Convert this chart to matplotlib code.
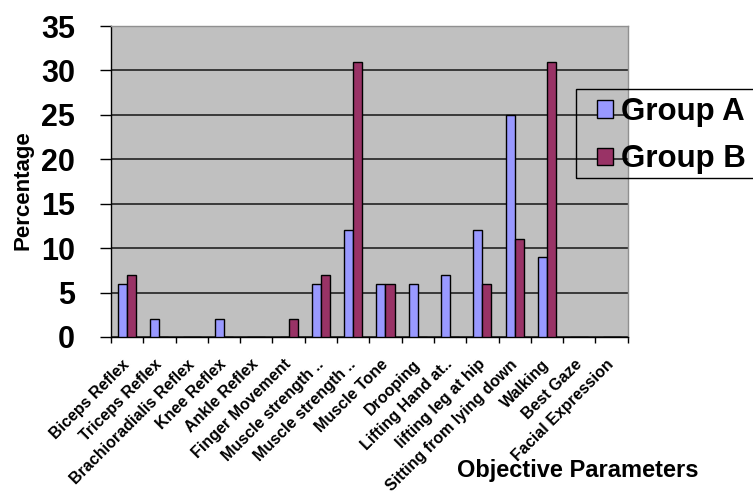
import numpy as np
import matplotlib
matplotlib.use("Agg")
import matplotlib.pyplot as plt
from matplotlib.patches import Rectangle

plt.rcParams['font.family'] = ['Liberation Sans', 'DejaVu Sans']

# categories and values
params = ['Biceps Reflex', 'Triceps Reflex', 'Brachioradialis Reflex', 'Knee Reflex',
          'Ankle Reflex', 'Finger Movement', 'Muscle strength ..', 'Muscle strength ..',
          'Muscle Tone', 'Drooping', 'Lifting Hand at..', 'lifting leg at hip',
          'Sitting from lying down', 'Walking', 'Best Gaze', 'Facial Expression']
group_a = [6, 2, 0, 2, 0, 0, 6, 12, 6, 6, 7, 12, 25, 9, 0, 0]
group_b = [7, 0, 0, 0, 0, 2, 7, 31, 6, 0, 0, 6, 11, 31, 0, 0]
yticks = [0, 5, 10, 15, 20, 25, 30, 35]

col_a = '#9999FF'
col_b = '#993366'

fig = plt.figure(figsize=(7.53, 4.95), dpi=100)
ax = fig.add_axes([111/753, 1 - 337/495, (627.7 - 111)/753, (337 - 26)/495])
ax.set_facecolor('#C0C0C0')

x = np.arange(len(params))
w = 0.28
ax.bar(x - w/2, group_a, w, color=col_a, edgecolor='black', linewidth=1, label='Group A', zorder=3)
ax.bar(x + w/2, group_b, w, color=col_b, edgecolor='black', linewidth=1, label='Group B', zorder=3)

ax.set_xlim(-0.5, len(params) - 0.5)
ax.set_ylim(0, 35)
ax.set_yticks(yticks)
ax.set_yticklabels([str(v) for v in yticks], fontsize=22, fontweight='bold')
ax.yaxis.grid(True, color='#222222', linewidth=1.2, zorder=1)
ax.set_axisbelow(True)
ax.tick_params(axis='y', length=8, width=1, pad=18)

ax.set_xticks(x)
ax.set_xticklabels(params, rotation=45, ha='right', va='center', rotation_mode='anchor',
                   fontsize=11.5, fontweight='bold')
ax.set_xticks(np.arange(-0.5, len(params)), minor=True)
ax.tick_params(axis='x', which='major', length=0, pad=18)
ax.tick_params(axis='x', which='minor', length=4, width=1)

for s in ['left', 'bottom']:
    ax.spines[s].set_color('black')
    ax.spines[s].set_linewidth(1)
for s in ['top', 'right']:
    ax.spines[s].set_color('#909090')
    ax.spines[s].set_linewidth(1)

fig.text(23/753, 1 - 190/495, 'Percentage', rotation=90, ha='center', va='center',
         fontsize=16, fontweight='bold')
fig.text(578/753, 1 - 470/495, 'Objective Parameters', ha='center', va='center',
         fontsize=17, fontweight='bold')

# legend box drawn separately; it runs off the right edge like the original
fig.patches.append(Rectangle((575.7/753, 1 - 178/495), 200/753, 89/495,
                             transform=fig.transFigure, fill=False,
                             edgecolor='black', linewidth=1, zorder=5))
leg = ax.legend(loc='upper left', bbox_to_anchor=(597/753, 1 - 97/495),
                bbox_transform=fig.transFigure,
                prop={'weight': 'bold', 'size': 22.5},
                handlelength=0.5, handleheight=0.5, handletextpad=0.28,
                labelspacing=0.56, borderpad=0, borderaxespad=0,
                frameon=False)

fig.savefig('out.png', dpi=100)
